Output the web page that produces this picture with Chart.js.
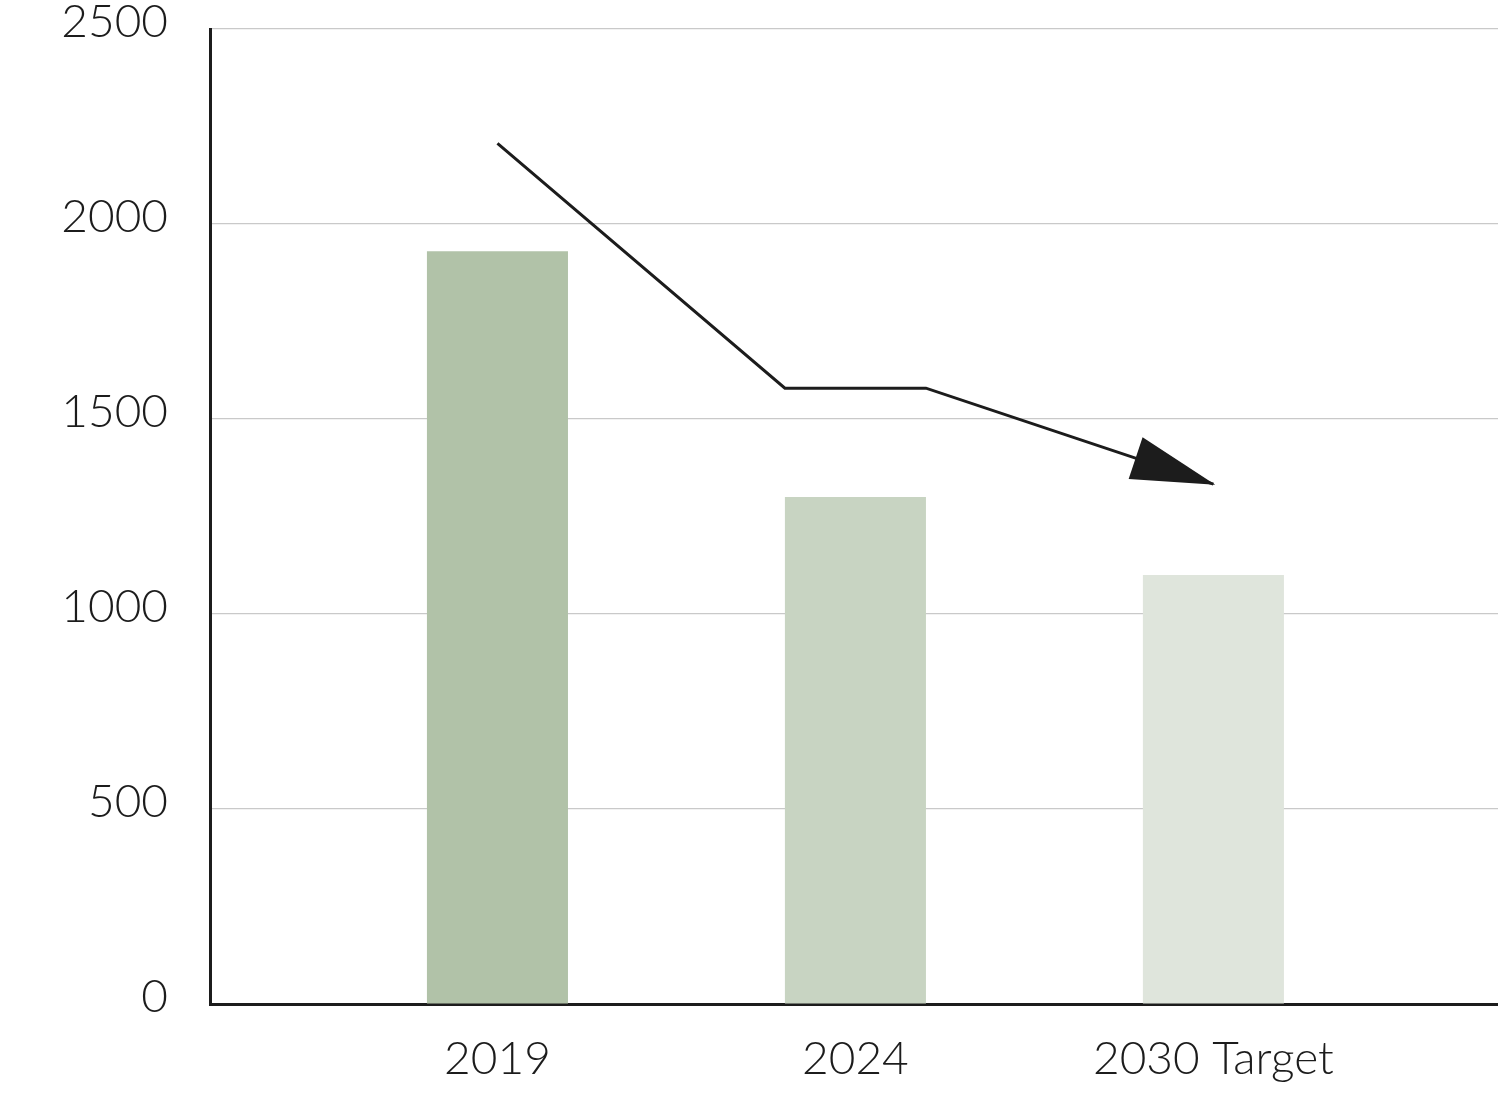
<!DOCTYPE html>
<html>
<head>
<meta charset="utf-8">
<script src="https://cdn.jsdelivr.net/npm/chart.js@4.4.1/dist/chart.umd.min.js"></script>
<style>
  html, body { margin: 0; padding: 0; background: #ffffff; }
  #wrap { width: 1498px; height: 1098px; position: relative; }
</style>
</head>
<body>
<div id="wrap"><canvas id="c"></canvas></div>
<script>
// ---- data ----
const categories = ['2019', '2024', '2030 Target'];
const categoryPositions = [1, 2, 3];
const barValues = [1930, 1300, 1100];
const barColors = ['#b1c2a8', '#c8d4c2', '#dfe5dc'];
const arrowX = [1, 1.803, 2.197, 3];
const arrowY = [2207, 1579, 1579, 1333];
const yTicks = [0, 500, 1000, 1500, 2000, 2500];

const FONT = "Lato, 'Open Sans', 'DejaVu Sans', sans-serif";
const INK = '#1c1c1c';

const arrowHeadPlugin = {
  id: 'arrowHead',
  afterDatasetsDraw(chart) {
    const meta = chart.getDatasetMeta(0);
    const pts = meta.data;
    if (!pts || pts.length < 2) return;
    const a = pts[pts.length - 2], b = pts[pts.length - 1];
    const dx = b.x - a.x, dy = b.y - a.y;
    const len = Math.hypot(dx, dy);
    const ux = dx / len, uy = dy / len;
    const L = 84, W = 22;
    const tx = b.x + ux * 2, ty = b.y + uy * 2;
    const bx = tx - ux * L, by = ty - uy * L;
    const ctx = chart.ctx;
    ctx.save();
    ctx.fillStyle = INK;
    ctx.beginPath();
    ctx.moveTo(tx, ty);
    ctx.lineTo(bx - uy * W, by + ux * W);
    ctx.lineTo(bx + uy * W, by - ux * W);
    ctx.closePath();
    ctx.fill();
    ctx.restore();
  }
};

new Chart(document.getElementById('c'), {
  type: 'bar',
  data: {
    datasets: [
      {
        type: 'line',
        data: arrowX.map((x, i) => ({ x: x, y: arrowY[i] })),
        borderColor: INK,
        borderWidth: 3,
        borderCapStyle: 'butt',
        pointRadius: 0,
        tension: 0,
        fill: false,
        order: 0
      },
      {
        type: 'bar',
        data: categoryPositions.map((x, i) => ({ x: x, y: barValues[i] })),
        backgroundColor: barColors,
        borderWidth: 0,
        categoryPercentage: 1,
        barPercentage: 0.394,
        order: 1
      }
    ]
  },
  plugins: [arrowHeadPlugin],
  options: {
    responsive: true,
    maintainAspectRatio: false,
    animation: false,
    events: [],
    layout: { padding: { top: 29, right: 0, bottom: 0, left: 0 } },
    plugins: { legend: { display: false }, tooltip: { enabled: false } },
    scales: {
      x: {
        type: 'linear',
        offset: false,
        bounds: 'ticks',
        min: 0.197,
        max: 3.795,
        afterBuildTicks: (scale) => { scale.ticks = categoryPositions.map(v => ({ value: v })); },
        afterFit: (scale) => { scale.height = 94; scale.paddingLeft = 0; scale.paddingRight = 0; },
        grid: { display: false, drawTicks: false },
        border: { display: true, color: INK, width: 3 },
        ticks: {
          autoSkip: false,
          maxRotation: 0,
          padding: 28,
          color: INK,
          font: { family: FONT, size: 46, weight: 300 },
          callback: (v, i) => categories[i]
        }
      },
      y: {
        type: 'linear',
        min: 0,
        max: 2500,
        afterBuildTicks: (scale) => { scale.ticks = yTicks.map(v => ({ value: v })); },
        afterFit: (scale) => { scale.width = 210; scale.paddingTop = 0; scale.paddingBottom = 0; },
        grid: { color: '#c9c9c9', lineWidth: 1.2, drawTicks: false },
        border: { display: true, color: INK, width: 3 },
        ticks: {
          padding: 42,
          labelOffset: -7,
          color: INK,
          font: { family: FONT, size: 46, weight: 300 },
          callback: (v) => String(v)
        }
      }
    }
  }
});
</script>
</body>
</html>
